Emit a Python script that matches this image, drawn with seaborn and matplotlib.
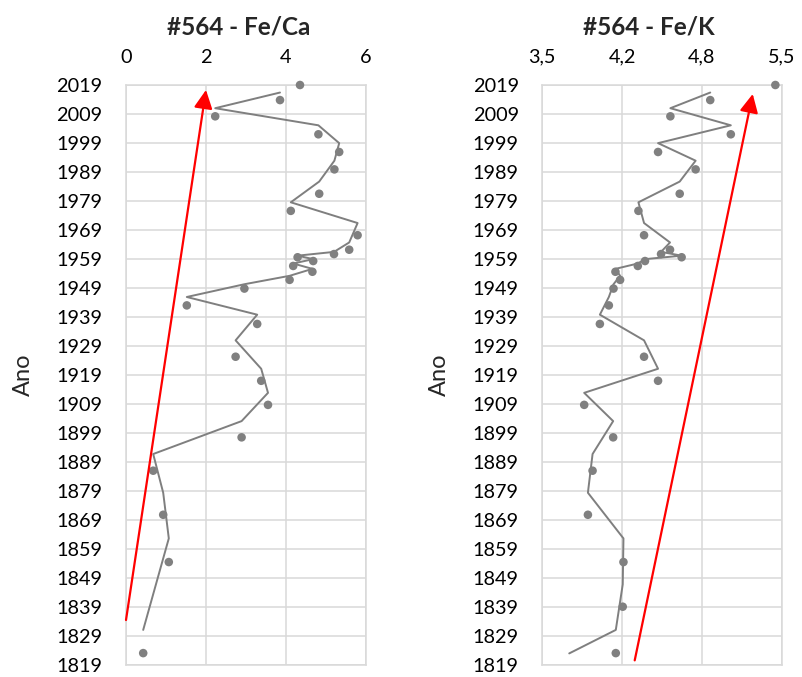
import numpy as np
import pandas as pd
import matplotlib
matplotlib.use("Agg")
import matplotlib.pyplot as plt
import seaborn as sns
from matplotlib.ticker import FixedLocator, FuncFormatter

# Sample ages (years) shared by both core profiles
years = np.array([
    2019.0, 2013.8, 2008.2, 2002.0, 1995.9, 1989.9, 1981.5, 1975.6, 1967.2,
    1962.2, 1960.7, 1959.6, 1958.3, 1956.6, 1954.6, 1951.8, 1948.8, 1943.0,
    1936.6, 1925.3, 1917.0, 1908.7, 1897.5, 1886.0, 1870.8, 1854.5, 1839.1,
    1823.1,
])

# Fe/Ca ratio (no measurement at 1839)
fe_ca = np.array([
    4.35, 3.85, 2.23, 4.81, 5.33, 5.21, 4.83, 4.12, 5.79,
    5.58, 5.20, 4.29, 4.68, 4.18, 4.66, 4.09, 2.96, 1.52,
    3.28, 2.74, 3.38, 3.55, 2.89, 0.68, 0.93, 1.07, np.nan,
    0.43,
])

# Fe/K ratio
fe_k = np.array([
    5.447, 4.903, 4.570, 5.075, 4.467, 4.781, 4.648, 4.303, 4.350,
    4.567, 4.492, 4.664, 4.358, 4.298, 4.111, 4.150, 4.095, 4.056,
    3.981, 4.350, 4.467, 3.850, 4.092, 3.920, 3.881, 4.178, 4.172,
    4.114,
])
# last segment of the Fe/K moving-average line
fe_k_trend_tail = {"value": [3.725], "year": [1823.0]}

year_ticks = list(range(1819, 2020, 10))

# trend arrows (start value, start year, end value, end year)
arrow_ca = (0.0, 1834.5, 2.0, 2017.3)
arrow_k = (4.272, 1820.6, 5.258, 2015.9)

sns.set_theme(style="white")
plt.rcParams["font.family"] = ["Lato", "DejaVu Sans"]

GRID = "#d9d9d9"
GRAY = "#808080"


def moving_average(yrs, vals):
    """Two-point moving average along the series order."""
    mid = (yrs[:-1] + yrs[1:]) / 2.0
    df = pd.DataFrame({"value": vals[1:], "year": mid})
    return df.dropna().reset_index(drop=True)


def draw_panel(ax, vals, xlim, xticks, fmt, trend_df, arrow):
    pts = pd.DataFrame({"value": vals, "year": years}).dropna()
    sns.lineplot(data=trend_df, x="value", y="year", sort=False,
                 estimator=None, color="#7f7f7f", lw=1.4, ax=ax, zorder=3)
    sns.scatterplot(data=pts, x="value", y="year", color=GRAY, s=38,
                    edgecolor="none", ax=ax, zorder=4, clip_on=False)
    ax.set_xlim(*xlim)
    ax.set_ylim(1819, 2019)
    ax.xaxis.set_major_locator(FixedLocator(xticks))
    ax.xaxis.set_major_formatter(FuncFormatter(fmt))
    ax.yaxis.set_major_locator(FixedLocator(year_ticks))
    ax.xaxis.tick_top()
    ax.tick_params(axis="both", length=0, labelsize=14.3, colors="black")
    ax.tick_params(axis="x", pad=14)
    ax.tick_params(axis="y", pad=17)
    ax.grid(True, color=GRID, lw=1.1)
    for sp in ax.spines.values():
        sp.set_visible(True)
        sp.set_color(GRID)
        sp.set_linewidth(1.1)
    ax.set_xlabel("")
    ax.set_ylabel("Ano", fontsize=17, labelpad=16)
    x0, y0, x1, y1 = arrow
    ax.annotate("", xy=(x1, y1), xytext=(x0, y0),
                arrowprops=dict(arrowstyle="-|>,head_length=0.56,head_width=0.28",
                                color="#ff0000", lw=1.6, mutation_scale=20,
                                shrinkA=0, shrinkB=0),
                annotation_clip=False, zorder=5)
    ax.set_axisbelow(True)


fig = plt.figure(figsize=(8.02, 6.77), dpi=100)
ax1 = fig.add_axes([126 / 802, 12 / 677, 240 / 802, 580 / 677])
ax2 = fig.add_axes([542.3 / 802, 12 / 677, 239.4 / 802, 580 / 677])

draw_panel(ax1, fe_ca, (0, 6), [0, 2, 4, 6],
           lambda v, p: f"{v:g}", moving_average(years, fe_ca), arrow_ca)

k_trend = pd.concat([moving_average(years, fe_k), pd.DataFrame(fe_k_trend_tail)],
                    ignore_index=True)
k_ticks = [3.5, 3.5 + 2 / 3, 3.5 + 4 / 3, 5.5]
draw_panel(ax2, fe_k, (3.5, 5.5), k_ticks,
           lambda v, p: f"{v:.1f}".replace(".", ","), k_trend, arrow_k)

fig.text(239 / 802, 1 - 27 / 677, "#564 - Fe/Ca", ha="center", va="center",
         fontsize=17.5, fontweight="bold")
fig.text(649 / 802, 1 - 27 / 677, "#564 - Fe/K", ha="center", va="center",
         fontsize=17.5, fontweight="bold")

fig.savefig("out.png", dpi=100)
